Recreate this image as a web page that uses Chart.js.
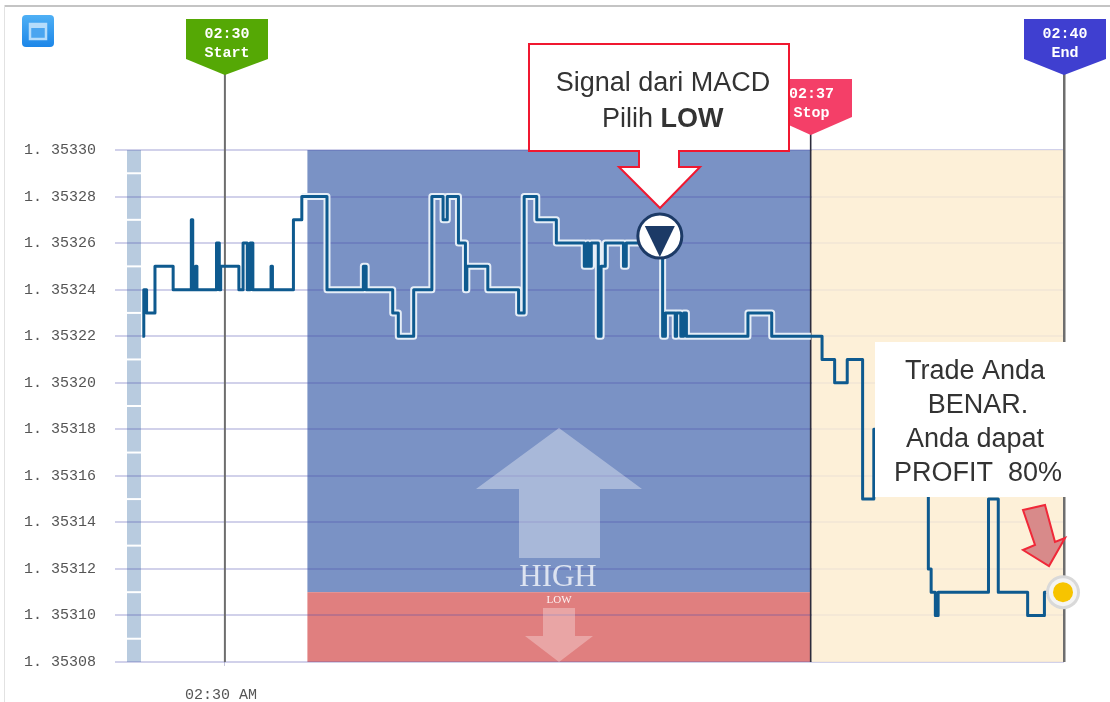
<!DOCTYPE html>
<html><head><meta charset="utf-8">
<style>html,body{margin:0;padding:0;background:#fff;overflow:hidden}canvas{display:block;filter:blur(0.45px)}</style>
<script src="https://cdn.jsdelivr.net/npm/chart.js@4"></script>
</head><body><canvas id="c" width="1110" height="702"></canvas>
<script>
// seconds after 02:30 at which the price changes
const seconds = [-59,-58,-56,-50,-37,-24,-23,-21,-20,-6,-4,-3,10,13,16,18,20,33,34,49,55,73,99,101,120,124,135,148,156,159,167,172,173,188,210,214,223,237,257,259,260,262,267,269,272,285,287,313,315,322,323,326,328,330,374,391,427,436,445,456,464,468,493,503,505,508,510,546,553,574,586,600];
const prices = [1.35322,1.35324,1.35323,1.35325,1.35324,1.35327,1.35324,1.35325,1.35324,1.35326,1.35324,1.35325,1.35324,1.35326,1.35324,1.35326,1.35324,1.35325,1.35324,1.35327,1.35328,1.35324,1.35325,1.35324,1.35323,1.35322,1.35324,1.35328,1.35327,1.35328,1.35326,1.35324,1.35325,1.35324,1.35323,1.35328,1.35327,1.35326,1.35325,1.35326,1.35325,1.35326,1.35322,1.35325,1.35326,1.35325,1.35326,1.35322,1.35323,1.35322,1.35323,1.35322,1.35323,1.35322,1.35323,1.35322,1.35321,1.35320,1.35321,1.35315,1.35318,1.35316,1.35317,1.35312,1.35311,1.35310,1.35311,1.35315,1.35311,1.35310,1.35311,1.35311];
const yTicks = [1.35330,1.35328,1.35326,1.35324,1.35322,1.35320,1.35318,1.35316,1.35314,1.35312,1.35310,1.35308];
const yTickLabels = ['1. 35330','1. 35328','1. 35326','1. 35324','1. 35322','1. 35320','1. 35318','1. 35316','1. 35314','1. 35312','1. 35310','1. 35308'];
const xTicks = [0];
const xTickLabels = ['02:30 AM'];
const zoneStart = 59, stopSec = 419, endSec = 600, axisStart = -70;
const boundary = 1.353110, yMin = 1.35308, yMax = 1.35330;
const signalSec = 311, signalPrice = 1.353263;
const endPrice = 1.35311;

const xy = seconds.map((s,i)=>({x:s,y:prices[i]}));
const haloStart = 55;
const halo = xy.filter(p=>p.x>=haloStart && p.x<=stopSec);
halo.push({x:stopSec,y:halo[halo.length-1].y});

function poly(ctx,pts,fill,stroke,lw){
  ctx.beginPath();pts.forEach((p,i)=>i?ctx.lineTo(p[0],p[1]):ctx.moveTo(p[0],p[1]));ctx.closePath();
  if(fill){ctx.fillStyle=fill;ctx.fill();}
  if(stroke){ctx.strokeStyle=stroke;ctx.lineWidth=lw||1;ctx.stroke();}
}
function flag(ctx,cx,left,right,top,sh,tip,color,l1,l2){
  poly(ctx,[[left,top],[right,top],[right,sh],[cx,tip],[left,sh]],color);
  ctx.fillStyle='#fff';ctx.font='bold 15px "Liberation Mono"';ctx.textAlign='center';ctx.textBaseline='middle';
  ctx.fillText(l1,(left+right)/2,top+15);ctx.fillText(l2,(left+right)/2,top+34);
}
const deco = {
  id:'deco',
  beforeDraw(ch){
    const {ctx,scales:{x,y}}=ch;ctx.save();
    const top=y.getPixelForValue(yMax),bot=y.getPixelForValue(yMin),b=y.getPixelForValue(boundary);
    const xz=x.getPixelForValue(zoneStart),xs=x.getPixelForValue(stopSec),xe=x.getPixelForValue(endSec);
    ctx.fillStyle='#fff';ctx.fillRect(0,0,1110,702);
    // frame
    ctx.fillStyle='#c4c4c4';ctx.fillRect(4,5,1106,2);ctx.fillStyle='#e2e2e2';ctx.fillRect(4,5,1,697);
    // zones
    ctx.fillStyle='#7a92c5';ctx.fillRect(xz,top,xs-xz,b-top);
    ctx.fillStyle='#e07f7f';ctx.fillRect(xz,b,xs-xz,bot-b);
    ctx.fillStyle='#fdf0d8';ctx.fillRect(xs,top,xe-xs,bot-top);
    // left strip
    const sl=x.getPixelForValue(axisStart);
    ctx.fillStyle='#b8cbdf';ctx.fillRect(sl,top,14,bot-top);
    ctx.fillStyle='#fff';
    for(let i=0;i<yTicks.length-1;i++){ctx.fillRect(sl,y.getPixelForValue(yTicks[i]-0.00001)-1,14,2);}
    ctx.restore();
  },
  beforeDatasetsDraw(ch){
    const {ctx,scales:{x,y}}=ch;ctx.save();
    const top=y.getPixelForValue(yMax),bot=y.getPixelForValue(yMin);
    const xs=x.getPixelForValue(stopSec),xe=x.getPixelForValue(endSec),x0=x.getPixelForValue(0);
    // fade the grid over the cream zone
    ctx.fillStyle='rgba(253,240,216,.8)';ctx.fillRect(xs+1,top,xe-xs-1,bot-top);
    // big arrows
    poly(ctx,[[559,428],[642,489],[600,489],[600,558],[519,558],[519,489],[476,489]],'rgba(255,255,255,.35)');
    poly(ctx,[[543,608],[575,608],[575,636],[593,636],[559,662],[525,636],[543,636]],'rgba(255,255,255,.3)');
    ctx.textAlign='center';ctx.textBaseline='middle';
    ctx.fillStyle='rgba(255,255,255,.75)';ctx.font='31px "Liberation Serif"';ctx.fillText('HIGH',558,578);
    ctx.fillStyle='rgba(255,255,255,.9)';ctx.font='11px "Liberation Serif"';ctx.fillText('LOW',559,600);
    // vertical time lines
    ctx.fillStyle='#6e6e6e';ctx.fillRect(x0-1,70,2,bot-70);ctx.fillRect(xe-1,70,2.5,bot-70);
    ctx.fillStyle='#2c2c3c';ctx.fillRect(xs-1,125,1.6,bot-125);
    ctx.restore();
  },
  afterDraw(ch){
    const {ctx,scales:{x,y}}=ch;ctx.save();
    // window icon
    ctx.beginPath();ctx.roundRect(22,15,32,32,4);
    const g=ctx.createLinearGradient(0,15,0,47);g.addColorStop(0,'#4fb0f5');g.addColorStop(1,'#1c86e8');ctx.fillStyle=g;ctx.fill();
    ctx.fillStyle='#4aa5f0';ctx.strokeStyle='#b5dcfb';ctx.lineWidth=2.5;ctx.fillRect(30,24,16,15);ctx.strokeRect(30,24,16,15);
    ctx.fillStyle='#b5dcfb';ctx.fillRect(30,24,16,4);
    // flags
    const x0=x.getPixelForValue(0),xs=x.getPixelForValue(stopSec),xe=x.getPixelForValue(endSec);
    flag(ctx,x0,186,268,19,59,75,'#55a805','02:30','Start');
    flag(ctx,xe,1024,1106,19,59,75,'#3f3fd0','02:40','End');
    flag(ctx,xs,771,852,79,117,135,'#f43f68','02:37','Stop');
    // signal callout
    poly(ctx,[[529,44],[789,44],[789,151],[679,151],[679,167],[700,167],[660,208],[619,167],[639,167],[639,151],[529,151]],'#fff','#f01830',2);
    ctx.fillStyle='#333';ctx.textAlign='center';ctx.textBaseline='middle';
    ctx.font='27px "Liberation Sans"';ctx.fillText('Signal dari MACD',663,84);
    ctx.textAlign='left';ctx.fillText('Pilih ',602,120);
    const w=ctx.measureText('Pilih ').width;ctx.font='bold 27px "Liberation Sans"';ctx.fillText('LOW',602+w,120);
    // signal marker
    const sx=x.getPixelForValue(signalSec),sy=y.getPixelForValue(signalPrice);
    ctx.beginPath();ctx.arc(sx,sy,22,0,Math.PI*2);ctx.fillStyle='#fff';ctx.fill();ctx.strokeStyle='#1c3a66';ctx.lineWidth=3;ctx.stroke();
    poly(ctx,[[sx-15,sy-10],[sx+15,sy-10],[sx,sy+21]],'#1c3a66');
    // result box
    ctx.fillStyle='#fff';ctx.fillRect(875,342,193,155);
    ctx.fillStyle='#333';ctx.textAlign='center';ctx.font='27px "Liberation Sans"';
    ctx.fillText('Trade Anda',975,372);ctx.fillText('BENAR.',978,406);ctx.fillText('Anda dapat',975,440);ctx.fillText('PROFIT  80%',978,474);
    // red arrow
    poly(ctx,[[1023,510],[1045,505],[1055,542],[1065,538],[1049,566],[1023,550],[1035,545]],'#d88a8a','#f02838',2);
    // end marker
    const ex=x.getPixelForValue(endSec)-1,ey=y.getPixelForValue(endPrice);
    ctx.beginPath();ctx.arc(ex,ey,17,0,Math.PI*2);ctx.fillStyle='#d9d9d9';ctx.fill();
    ctx.beginPath();ctx.arc(ex,ey,14,0,Math.PI*2);ctx.fillStyle='#f4f4f4';ctx.fill();
    ctx.beginPath();ctx.arc(ex,ey,10,0,Math.PI*2);ctx.fillStyle='#f7c400';ctx.fill();
    ctx.restore();
  }
};
new Chart(document.getElementById('c'),{
  type:'line',
  data:{datasets:[
    {label:'price',data:xy,stepped:true,borderColor:'#0e5a8f',borderWidth:3,borderJoinStyle:'round',pointRadius:0,order:1,clip:false},
    {label:'halo',data:halo,stepped:true,borderColor:'rgba(236,243,250,.95)',borderWidth:7,borderJoinStyle:'round',pointRadius:0,order:2,clip:false}
  ]},
  options:{
    responsive:false,animation:false,
    layout:{padding:{top:150,right:46,bottom:0,left:0}},
    plugins:{legend:{display:false},tooltip:{enabled:false},title:{display:false}},
    scales:{
      x:{type:'linear',min:axisStart,max:endSec,
        afterBuildTicks(s){s.ticks=xTicks.map(v=>({value:v}));},
        afterFit(s){s.height=40;},
        grid:{drawOnChartArea:false,tickLength:4,color:'#c8c8dc'},border:{display:false},
        ticks:{autoSkip:false,maxRotation:0,padding:20,labelOffset:-4,color:'#555',font:{family:'"Liberation Mono"',size:15},
          callback:(v)=>xTickLabels[xTicks.indexOf(v)]}},
      y:{type:'linear',min:yMin,max:yMax,
        afterBuildTicks(s){s.ticks=yTicks.map(v=>({value:v}));},
        afterFit(s){s.width=127;},
        grid:{color:'rgba(70,70,170,.25)',lineWidth:2,tickLength:12},border:{display:false},
        ticks:{autoSkip:false,padding:19,color:'#555',font:{family:'"Liberation Mono"',size:15},
          callback:(v)=>yTickLabels[yTicks.findIndex(t=>Math.abs(t-v)<1e-7)]}}
    }
  },
  plugins:[deco]
});
</script></body></html>
